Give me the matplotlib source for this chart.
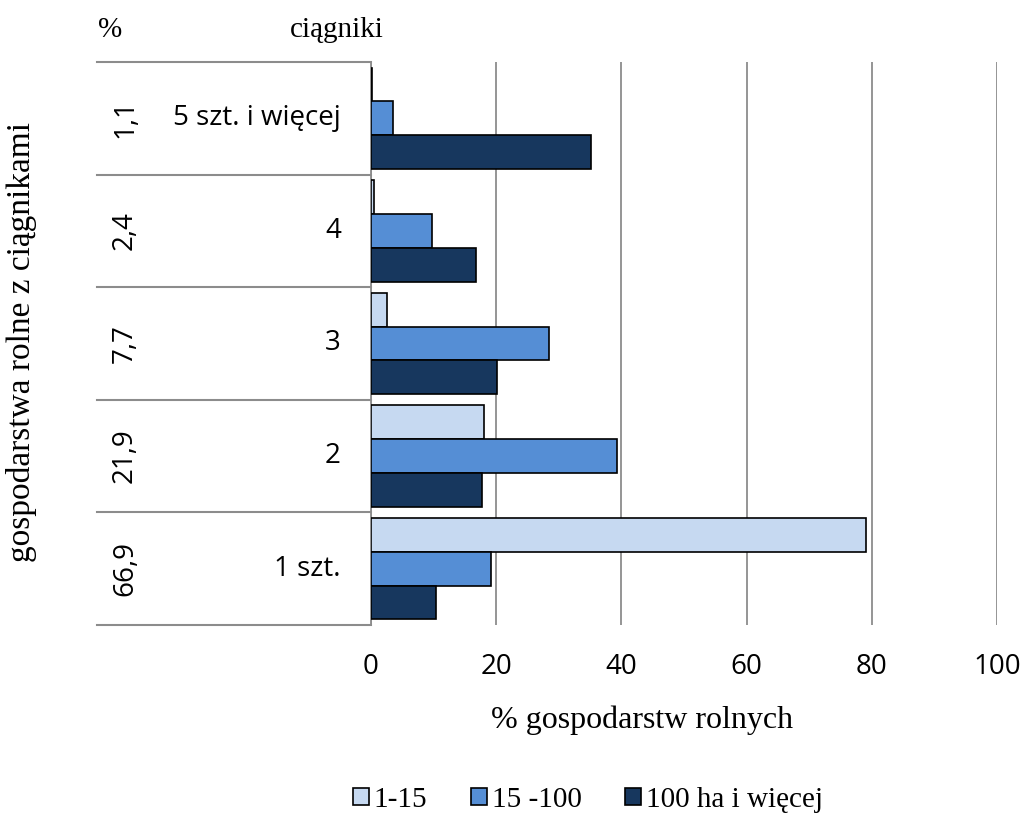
import matplotlib.pyplot as plt
import numpy as np

categories = ['1 szt.', '2', '3', '4', '5 szt. i więcej']
shares = ['66,9', '21,9', '7,7', '2,4', '1,1']
series = ['1-15', '15 -100', '100 ha i więcej']
v_small = [79.1, 18.0, 2.6, 0.4, 0.2]
v_mid = [19.2, 39.3, 28.4, 9.8, 3.5]
v_large = [10.4, 17.7, 20.2, 16.8, 35.2]
colors = ['#C6D9F1', '#558ED5', '#17375E']

serif = 'Liberation Serif'
sans = 'Open Sans'

fig = plt.figure(figsize=(10.23, 8.19), dpi=100)
ax = fig.add_axes([371 / 1023, 1 - 625 / 819, 626 / 1023, 563 / 819])

y = np.arange(len(categories))
h = 0.3
for vals, off, c, lab in zip([v_small, v_mid, v_large], [h, 0, -h], colors, series):
    ax.barh(y + off, vals, height=h, color=c, edgecolor='black', linewidth=1.2,
            label=lab, zorder=3)

ax.set_xlim(0, 100)
ax.set_ylim(-0.5, 4.5)
ax.set_xticks(range(0, 101, 20))
ax.set_yticks([])
ax.xaxis.grid(True, color='#8c8c8c', linewidth=1.3, zorder=0)
for s in ['top', 'right', 'bottom']:
    ax.spines[s].set_visible(False)
ax.spines['left'].set_color('#8c8c8c')
ax.spines['left'].set_linewidth(1.3)
ax.tick_params(axis='x', length=0, pad=20, labelsize=20)
for t in ax.get_xticklabels():
    t.set_fontfamily(sans)

# left table
x0 = (97 - 371) / 626
for b in np.arange(-0.5, 5, 1):
    ax.plot([x0, 0], [b, b], transform=ax.get_yaxis_transform(), color='#8c8c8c',
            linewidth=1.5, clip_on=False)
for i in y:
    ax.text((125 - 371) / 626, i, shares[i], transform=ax.get_yaxis_transform(),
            rotation=90, ha='center', va='center', fontsize=20, family=sans)
    ax.text((341 - 371) / 626, i, categories[i], transform=ax.get_yaxis_transform(),
            ha='right', va='center', fontsize=20, family=sans)

fig.text(110 / 1023, 1 - 30 / 819, '%', ha='center', va='center', fontsize=21, family=serif)
fig.text(337 / 1023, 1 - 30 / 819, 'ciągniki', ha='center', va='center', fontsize=21, family=serif)
fig.text(22 / 1023, 1 - 342 / 819, 'gospodarstwa rolne z ciągnikami', rotation=90,
         ha='center', va='center', fontsize=24, family=serif)
fig.text(642 / 1023, 1 - 720 / 819, '% gospodarstw rolnych', ha='center', va='center',
         fontsize=23, family=serif)

fig.legend(loc='center', bbox_to_anchor=(588 / 1023, 1 - 800 / 819), ncol=3, frameon=False,
           handlelength=0.55, handleheight=0.55, handletextpad=0.15, columnspacing=1.5,
           prop={'family': serif, 'size': 21})

fig.savefig('out.png', dpi=100)
